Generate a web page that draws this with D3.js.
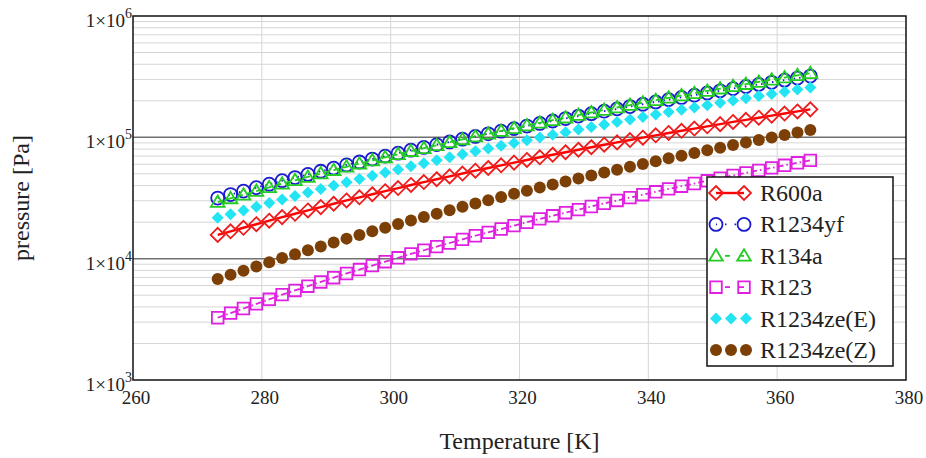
<!DOCTYPE html>
<html>
<head>
<meta charset="utf-8">
<script src="https://cdn.jsdelivr.net/npm/d3@7"></script>
<style>
  body { margin: 0; background: #fff; }
</style>
</head>
<body>
<div id="chart"></div>
<script>
var width = 926;
var height = 458;
var serif = '"Liberation Serif", "Times New Roman", "DejaVu Serif", serif';

// temperatures [K]
var temps = [273.15, 275.15, 277.15, 279.15, 281.15, 283.15, 285.15, 287.15, 289.15, 291.15,
  293.15, 295.15, 297.15, 299.15, 301.15, 303.15, 305.15, 307.15, 309.15, 311.15,
  313.15, 315.15, 317.15, 319.15, 321.15, 323.15, 325.15, 327.15, 329.15, 331.15,
  333.15, 335.15, 337.15, 339.15, 341.15, 343.15, 345.15, 347.15, 349.15, 351.15,
  353.15, 355.15, 357.15, 359.15, 361.15, 363.15, 365.15];

// pressures [Pa]
var r600a = [15700, 16800, 17970, 19220, 20570, 22000, 23440, 24970, 26600, 28350,
  30200, 32020, 33960, 36010, 38190, 40500, 42760, 45140, 47650, 50300,
  53100, 55870, 58790, 61860, 65090, 68500, 71840, 75330, 79000, 82850,
  86900, 90860, 95000, 99330, 103860, 108600, 113260, 118120, 123190, 128470,
  134000, 139440, 145100, 150990, 157120, 163500, 170000];
var r1234yf = [31600, 33750, 36040, 38480, 41100, 43900, 46600, 49480, 52530, 55760,
  59200, 62600, 66200, 70010, 74030, 78300, 82520, 86970, 91660, 96600,
  101800, 106930, 112320, 117980, 123930, 130200, 136380, 142860, 149650, 156760,
  164200, 171570, 179280, 187330, 195740, 204500, 213230, 222340, 231840, 241740,
  252000, 262330, 273090, 284280, 295940, 308000, 320000];
var r134a = [29300, 31410, 33680, 36100, 38710, 41500, 44250, 47190, 50310, 53650,
  57200, 60700, 64430, 68380, 72570, 77000, 81400, 86060, 90980, 96190,
  101700, 107110, 112810, 118810, 125140, 131800, 138390, 145310, 152580, 160200,
  168200, 176120, 184420, 193110, 202210, 211700, 221140, 231000, 241310, 252070,
  263300, 274520, 286220, 298420, 311140, 324400, 338000];
var r123 = [3260, 3558, 3883, 4237, 4624, 5050, 5473, 5931, 6428, 6967,
  7550, 8133, 8761, 9437, 10166, 10950, 11731, 12567, 13463, 14423,
  15450, 16468, 17554, 18711, 19945, 21260, 22553, 23925, 25380, 26924,
  28560, 30172, 31874, 33673, 35573, 37580, 39555, 41634, 43822, 46125,
  48550, 50934, 53436, 56060, 58813, 61700, 64600];
var r1234zeE = [21700, 23270, 24960, 26770, 28710, 30800, 32880, 35100, 37470, 40000,
  42700, 45360, 48200, 51210, 54400, 57800, 61160, 64720, 68490, 72470,
  76700, 80850, 85220, 89830, 94690, 99800, 104860, 110180, 115760, 121630,
  127800, 133910, 140310, 147020, 154040, 161400, 168660, 176250, 184180, 192470,
  201100, 209670, 218600, 227910, 237620, 247800, 258000];
var r1234zeZ = [6800, 7361, 7968, 8626, 9337, 10108, 10883, 11718, 12617, 13585,
  14626, 15670, 16790, 17989, 19273, 20650, 22027, 23497, 25064, 26736,
  28520, 30303, 32197, 34210, 36348, 38620, 40881, 43275, 45808, 48490,
  51330, 54160, 57146, 60296, 63620, 67130, 70613, 74276, 78131, 82186,
  86450, 90686, 95130, 99790, 104680, 109800, 115000];

var xTicks = [260, 280, 300, 320, 340, 360, 380];
var yDecades = [3, 4, 5, 6];

var series = [
  { name: 'R600a', values: r600a, color: '#ee1c1c', line: '#ff0000', dash: null, marker: 'diamond', fill: false },
  { name: 'R1234yf', values: r1234yf, color: '#1a1ad0', line: '#1a1ad0', dash: '1.5,4', marker: 'circle', fill: false },
  { name: 'R134a', values: r134a, color: '#22cc22', line: '#22cc22', dash: '6,4', marker: 'triangle', fill: false },
  { name: 'R123', values: r123, color: '#e020e0', line: '#e020e0', dash: '6,3,1.5,3', marker: 'square', fill: false },
  { name: 'R1234ze(E)', values: r1234zeE, color: '#22e4f2', line: null, dash: null, marker: 'diamond', fill: true },
  { name: 'R1234ze(Z)', values: r1234zeZ, color: '#7c3f06', line: null, dash: null, marker: 'circle', fill: true }
];

var margin = { left: 133, right: 20, top: 16, bottom: 78 };
var x = d3.scaleLinear().domain([260, 380]).range([margin.left, width - margin.right]);
var y = d3.scaleLog().domain([1e3, 1e6]).range([height - margin.bottom, margin.top]);

var svg = d3.select('#chart').append('svg')
  .attr('width', width)
  .attr('height', height)
  .attr('font-family', serif);

// minor grid
var minor = [];
[3, 4, 5].forEach(function(k) {
  for (var m = 2; m <= 9; m++) minor.push(m * Math.pow(10, k));
});
svg.append('g').selectAll('line')
  .data(minor)
  .enter().append('line')
  .attr('x1', x(260)).attr('x2', x(380))
  .attr('y1', function(d) { return y(d); })
  .attr('y2', function(d) { return y(d); })
  .attr('stroke', '#d6d6d6').attr('stroke-width', 1);

svg.append('g').selectAll('line')
  .data(xTicks.slice(1, -1))
  .enter().append('line')
  .attr('y1', y(1e3)).attr('y2', y(1e6))
  .attr('x1', function(d) { return x(d); })
  .attr('x2', function(d) { return x(d); })
  .attr('stroke', '#d6d6d6').attr('stroke-width', 1);

// decade lines
svg.append('g').selectAll('line')
  .data([1e4, 1e5])
  .enter().append('line')
  .attr('x1', x(260)).attr('x2', x(380))
  .attr('y1', function(d) { return y(d); })
  .attr('y2', function(d) { return y(d); })
  .attr('stroke', '#707070').attr('stroke-width', 1.5);

// markers
function markerPath(type, s) {
  if (type === 'diamond') return 'M0,' + (-s) + 'L' + s + ',0L0,' + s + 'L' + (-s) + ',0Z';
  if (type === 'square') return 'M' + (-s) + ',' + (-s) + 'H' + s + 'V' + s + 'H' + (-s) + 'Z';
  if (type === 'triangle') return 'M0,' + (-s) + 'L' + (s * 1.05) + ',' + (s * 0.75) + 'L' + (-s * 1.05) + ',' + (s * 0.75) + 'Z';
  return null;
}
function markerSize(d) {
  if (d.marker === 'diamond') return d.fill ? 6 : 7;
  if (d.marker === 'square') return 5.8;
  if (d.marker === 'triangle') return 6.5;
  return d.fill ? 6 : 6.5;
}
function drawMarker(g, d, cx, cy) {
  var s = markerSize(d);
  var el;
  if (d.marker === 'circle') {
    el = g.append('circle').attr('cx', cx).attr('cy', cy).attr('r', s);
  } else {
    el = g.append('path').attr('d', markerPath(d.marker, s))
      .attr('transform', 'translate(' + cx + ',' + cy + ')');
  }
  el.attr('fill', d.fill ? d.color : 'none')
    .attr('stroke', d.fill ? 'none' : d.color)
    .attr('stroke-width', 1.8);
}

var line = d3.line()
  .x(function(v, i) { return x(temps[i]); })
  .y(function(v) { return y(v); });

series.forEach(function(s) {
  var g = svg.append('g');
  if (s.line) {
    g.append('path')
      .datum(s.values)
      .attr('d', line)
      .attr('fill', 'none')
      .attr('stroke', s.line)
      .attr('stroke-width', s.dash ? 1.8 : 2.4)
      .attr('stroke-dasharray', s.dash);
  }
  s.values.forEach(function(v, i) {
    drawMarker(g, s, x(temps[i]), y(v));
  });
});

// frame
svg.append('rect')
  .attr('x', x(260)).attr('y', y(1e6))
  .attr('width', x(380) - x(260)).attr('height', y(1e3) - y(1e6))
  .attr('fill', 'none').attr('stroke', '#111').attr('stroke-width', 1.5);

// x tick labels
svg.append('g').selectAll('text')
  .data(xTicks)
  .enter().append('text')
  .attr('x', function(d) { return x(d) + 3; })
  .attr('y', 404)
  .attr('text-anchor', 'middle')
  .attr('font-size', 19)
  .attr('fill', '#222')
  .text(function(d) { return d; });

// y tick labels
var yl = svg.append('g').selectAll('text')
  .data(yDecades)
  .enter().append('text')
  .attr('x', x(260) - 1)
  .attr('y', function(d) { return y(Math.pow(10, d)) + 11; })
  .attr('text-anchor', 'end')
  .attr('font-size', 19)
  .attr('fill', '#222');
yl.append('tspan').text('1×10');
yl.append('tspan')
  .attr('dy', -9)
  .attr('font-size', 14)
  .text(function(d) { return d; });

// axis titles
svg.append('text')
  .attr('x', (x(260) + x(380)) / 2)
  .attr('y', 449)
  .attr('text-anchor', 'middle')
  .attr('font-size', 24)
  .attr('fill', '#222')
  .text('Temperature [K]');

svg.append('text')
  .attr('transform', 'translate(29,' + ((y(1e3) + y(1e6)) / 2) + ') rotate(-90)')
  .attr('text-anchor', 'middle')
  .attr('font-size', 24)
  .attr('fill', '#222')
  .text('pressure [Pa]');

// legend
var lx = 707, ly = 177, rowH = 31.4;
var legend = svg.append('g');
legend.append('rect')
  .attr('x', lx).attr('y', ly)
  .attr('width', 186).attr('height', 189)
  .attr('fill', '#fff').attr('stroke', '#111').attr('stroke-width', 1.5);

series.forEach(function(s, i) {
  var cy = ly + 16 + i * rowH;
  var g = legend.append('g');
  if (s.line) {
    g.append('line')
      .attr('x1', lx + 9).attr('x2', lx + 37)
      .attr('y1', cy).attr('y2', cy)
      .attr('stroke', s.line)
      .attr('stroke-width', s.dash ? 1.8 : 2.4)
      .attr('stroke-dasharray', s.dash ? (s.dash === '1.5,4' ? '1.5,8' : '5,9') : null)
      .attr('stroke-dashoffset', s.dash ? -9 : null);
    drawMarker(g, s, lx + 9, cy);
    drawMarker(g, s, lx + 37, cy);
  } else {
    [lx + 9, lx + 24, lx + 39].forEach(function(cx) { drawMarker(g, s, cx, cy); });
  }
  g.append('text')
    .attr('x', lx + 53)
    .attr('y', cy + 8)
    .attr('font-size', 24)
    .attr('fill', '#222')
    .text(s.name);
});
</script>
</body>
</html>
